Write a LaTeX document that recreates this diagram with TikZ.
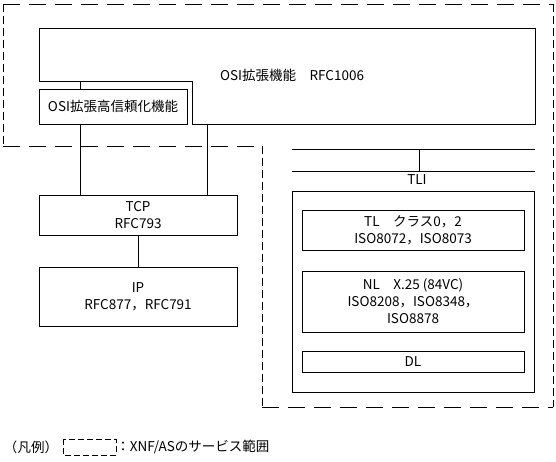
\documentclass[tikz,border=0pt]{standalone}
\usepackage{fontspec}
\setmainfont{Noto Sans CJK JP}
\usepackage{tikz}
\usetikzlibrary{positioning}

\begin{document}
\begin{tikzpicture}[x=1pt,y=-1pt,line width=0.9pt,
    every node/.style={font=\fontsize{13.5}{17}\selectfont,align=center,inner sep=0pt},
    box/.style={draw,minimum width=198pt},
    osibox/.style={draw,minimum width=222pt},
    hdash/.style={dash pattern=on 17pt off 9pt},
    vdash/.style={dash pattern=on 8pt off 4pt},
    legdash/.style={dash pattern=on 6pt off 3pt}]
        \useasboundingbox (0,0) rectangle (556,461);
        % service area (dashed)
        \draw[hdash] (3,4) -- (553,4);
        \draw[hdash] (3,146) -- (262,146);
        \draw[hdash] (262,407) -- (553,407);
        \draw[vdash] (3,4) -- (3,146);
        \draw[vdash] (553,4) -- (553,407);
        \draw[vdash] (262,146) -- (262,407);
        % OSI extension
        \draw (39,28) -- (535,28) -- (535,124) -- (192,124) -- (192,81) -- (39,81) -- cycle;
        \node (ext) at (292,75) {OSI拡張機能　RFC1006};
        \coordinate (extA) at (80,81);
        \coordinate (extB) at (207,124);
        \node[draw,minimum width=148pt,minimum height=35pt] (hirel) at (113,106.5) {OSI拡張高信頼化機能};
        % TCP/IP
        \node[box,minimum height=40pt] (tcp) at (138,215) {TCP\\RFC793};
        \node[box,minimum height=59pt] (ip) at (138,296.5) {IP\\RFC877，RFC791};
        \draw (extA) -- (extA |- hirel.north);
        \draw (extA |- hirel.south) -- (extA |- tcp.north);
        \draw (extB) -- (extB |- tcp.north);
        \draw (tcp) -- (ip);
        % TLI
        \coordinate (tliT) at (419,149);
        \coordinate (tliB) at (419,171);
        \draw (292,149) -- (535,149);
        \draw (292,171) -- (535,171);
        \draw (tliT) -- (tliB);
        \node (tli) at (417,180) {TLI};
        % OSI stack
        \node[draw,minimum width=242pt,minimum height=201pt] (stack) at (413,291.5) {};
        \node[osibox,minimum height=40pt] (tl) at (413,230) {TL　クラス0，2\\ISO8072，ISO8073};
        \node[osibox,minimum height=61pt] (nl) at (413,301.5) {NL　X.25 (84VC)\\ISO8208，ISO8348，\\ISO8878};
        \node[osibox,minimum height=21pt] (dl) at (413,361.5) {DL};
        % legend
        \node (leg) at (31,447) {（凡例）};
        \draw[legdash] (63,439) rectangle (116,455);
        \node[anchor=west] (legtext) at (116,447) {：XNF/ASのサービス範囲};
      \end{tikzpicture}
\end{document}
